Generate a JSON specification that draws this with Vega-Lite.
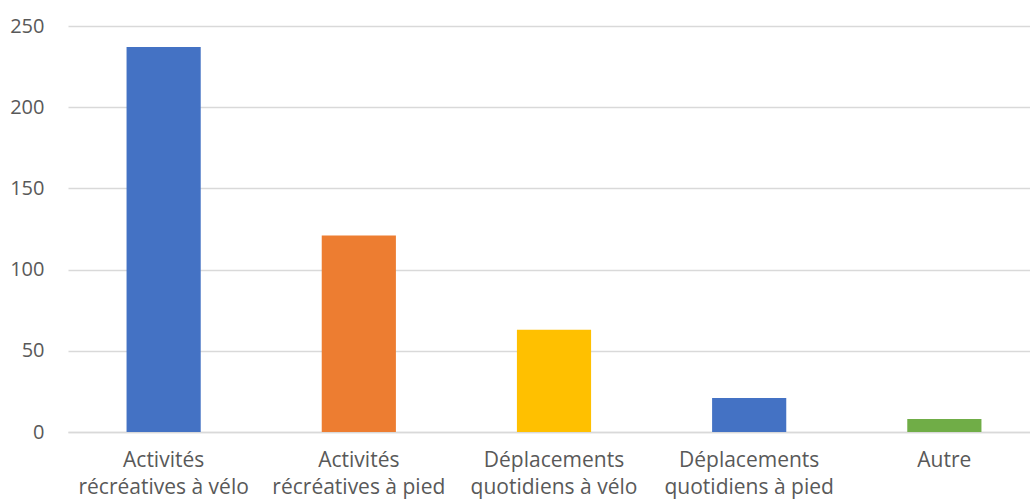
{
  "$schema": "https://vega.github.io/schema/vega-lite/v6.json",
  "autosize": "none",
  "padding": {"left": 68, "top": 26, "right": 0, "bottom": 72},
  "width": 972,
  "height": 406,
  "background": "#ffffff",
  "config": {
    "view": {"stroke": null},
    "font": "Open Sans"
  },
  "data": {
    "values": [
      {"categorie": "Activités\nrécréatives à vélo", "valeur": 237},
      {"categorie": "Activités\nrécréatives à pied", "valeur": 121},
      {"categorie": "Déplacements\nquotidiens à vélo", "valeur": 63},
      {"categorie": "Déplacements\nquotidiens à pied", "valeur": 21},
      {"categorie": "Autre", "valeur": 8}
    ]
  },
  "mark": {"type": "bar"},
  "encoding": {
    "x": {
      "field": "categorie",
      "type": "nominal",
      "sort": null,
      "scale": {"paddingInner": 0.62, "paddingOuter": 0.3},
      "axis": {
        "title": null,
        "labelAngle": 0,
        "labelExpr": "split(datum.label, '\\n')",
        "labelFont": "Open Sans",
        "labelFontSize": 21,
        "labelColor": "#595959",
        "labelLineHeight": 27,
        "labelPadding": 17,
        "labelBaseline": "top",
        "ticks": false,
        "domain": true,
        "domainColor": "#d9d9d9",
        "domainWidth": 1.5
      }
    },
    "y": {
      "field": "valeur",
      "type": "quantitative",
      "scale": {"domain": [0, 250], "nice": false},
      "axis": {
        "title": null,
        "values": [0, 50, 100, 150, 200, 250],
        "labelFont": "Open Sans",
        "labelFontSize": 20,
        "labelColor": "#595959",
        "labelPadding": 24,
        "ticks": false,
        "domain": false,
        "grid": true,
        "gridColor": "#d9d9d9",
        "gridWidth": 1.3
      }
    },
    "color": {
      "field": "categorie",
      "type": "nominal",
      "sort": null,
      "scale": {
        "domain": ["Activités\nrécréatives à vélo", "Activités\nrécréatives à pied", "Déplacements\nquotidiens à vélo", "Déplacements\nquotidiens à pied", "Autre"],
        "range": ["#4472C4", "#ED7D31", "#FFC000", "#4472C4", "#70AD47"]
      },
      "legend": null
    }
  }
}
